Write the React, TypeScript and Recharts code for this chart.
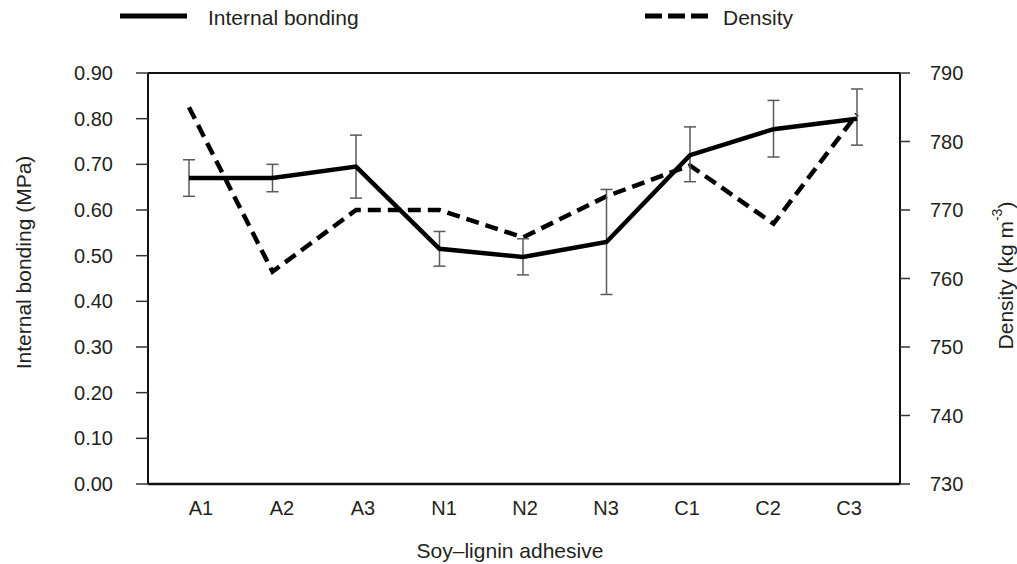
import { ComposedChart, Line, XAxis, YAxis, ErrorBar, ReferenceLine, Legend } from "recharts";

const categories = ["A1", "A2", "A3", "N1", "N2", "N3", "C1", "C2", "C3"];
const internalBonding = [0.67, 0.67, 0.695, 0.515, 0.497, 0.53, 0.72, 0.777, 0.8];
const ibLow = [0.63, 0.64, 0.626, 0.477, 0.458, 0.415, 0.662, 0.716, 0.742];
const ibHigh = [0.71, 0.7, 0.764, 0.553, 0.537, 0.645, 0.782, 0.84, 0.865];
const density = [785, 761, 770, 770, 766, 772, 776.5, 768, 784];
const leftTicks = [0, 0.1, 0.2, 0.3, 0.4, 0.5, 0.6, 0.7, 0.8, 0.9];
const rightTicks = [730, 740, 750, 760, 770, 780, 790];

const FONT = "'Liberation Sans', Arial, sans-serif";
const TEXT = "#231f20";

const data = categories.map((c, i) => ({
  name: c,
  ib: internalBonding[i],
  ibErr: [+(internalBonding[i] - ibLow[i]).toFixed(3), +(ibHigh[i] - internalBonding[i]).toFixed(3)],
  density: density[i],
}));

const renderLegend = () => (
  <svg width={1017} height={34} style={{ display: "block" }}>
    <line x1={120} x2={187} y1={16} y2={16} stroke="#000" strokeWidth={5} />
    <text x={208} y={17.5} dominantBaseline="central" fontFamily={FONT} fontSize={21} fill={TEXT}>
      Internal bonding
    </text>
    <line x1={645} x2={708} y1={16} y2={16} stroke="#000" strokeWidth={5} strokeDasharray="17 6" />
    <text x={723} y={17.5} dominantBaseline="central" fontFamily={FONT} fontSize={21} fill={TEXT}>
      Density
    </text>
  </svg>
);

// eslint-disable-next-line @typescript-eslint/no-explicit-any
const LeftLabel = (props: any) => {
  const { viewBox } = props;
  const x = viewBox.x + 23;
  const y = viewBox.y + viewBox.height / 2 - 16;
  return (
    <text x={x} y={y} transform={`rotate(-90 ${x} ${y})`} textAnchor="middle" dominantBaseline="central"
      fontFamily={FONT} fontSize={21} fill={TEXT}>
      Internal bonding (MPa)
    </text>
  );
};

// eslint-disable-next-line @typescript-eslint/no-explicit-any
const RightLabel = (props: any) => {
  const { viewBox } = props;
  const x = viewBox.x + 105;
  const y = viewBox.y + viewBox.height / 2 - 3;
  return (
    <text x={x} y={y} transform={`rotate(-90 ${x} ${y})`} textAnchor="middle" dominantBaseline="central"
      fontFamily={FONT} fontSize={21} fill={TEXT}>
      Density (kg m<tspan baselineShift="super" fontSize={14}>-3</tspan>)
    </text>
  );
};

// eslint-disable-next-line @typescript-eslint/no-explicit-any
const BottomLabel = (props: any) => {
  const { viewBox } = props;
  return (
    <text x={viewBox.x + viewBox.width / 2 - 14} y={viewBox.y + 66} textAnchor="middle" dominantBaseline="central"
      fontFamily={FONT} fontSize={21} fill={TEXT}>
      Soy–lignin adhesive
    </text>
  );
};

const tickStyle = { fill: TEXT, fontSize: 20, fontFamily: FONT };
const axisLine = { stroke: "#111", strokeWidth: 2 };
const tickLine = { stroke: "#333", strokeWidth: 1.5 };

export default function App() {
  return (
    <div style={{ position: "absolute", left: 0, top: 0, background: "#fff" }}>
      <ComposedChart width={1017} height={564} data={data} margin={{ top: 39, right: 0, bottom: 0, left: 0 }}>
        <Legend verticalAlign="top" align="left" content={renderLegend}
          wrapperStyle={{ left: 0, top: 0, width: 1017, height: 34 }} />
        <XAxis xAxisId="pts" dataKey="name" height={0} tick={false} tickLine={false} axisLine={false}
          padding={{ left: 41, right: 43 }} />
        <XAxis xAxisId="lab" dataKey="name" height={80} tickLine={false} tickSize={0} tickMargin={17}
          axisLine={false} tick={tickStyle} interval={0} padding={{ left: 53, right: 51 }}
          label={<BottomLabel />} />
        <YAxis yAxisId="ib" orientation="left" width={148} domain={[0, 0.9]} ticks={leftTicks}
          tickFormatter={(v: number) => v.toFixed(2)} tickSize={12} tickMargin={23}
          axisLine={axisLine} tickLine={tickLine} tick={tickStyle} label={<LeftLabel />} interval={0} />
        <YAxis yAxisId="d" orientation="right" width={117} domain={[730, 790]} ticks={rightTicks}
          tickSize={10} tickMargin={20} axisLine={axisLine} tickLine={tickLine} tick={tickStyle}
          label={<RightLabel />} interval={0} />
        <ReferenceLine xAxisId="pts" yAxisId="ib" y={0.9} stroke="#111" strokeWidth={2} />
        <ReferenceLine xAxisId="pts" yAxisId="ib" y={0} stroke="#111" strokeWidth={2.5} />
        <Line xAxisId="pts" yAxisId="d" dataKey="density" type="linear" stroke="#000" strokeWidth={4.5}
          strokeDasharray="13 7" dot={false} activeDot={false} isAnimationActive={false} />
        <Line xAxisId="pts" yAxisId="ib" dataKey="ib" type="linear" stroke="#000" strokeWidth={4.5}
          dot={false} activeDot={false} isAnimationActive={false}>
          <ErrorBar dataKey="ibErr" direction="y" width={6} stroke="#5a5a5a" strokeWidth={1.5} />
        </Line>
      </ComposedChart>
    </div>
  );
}
